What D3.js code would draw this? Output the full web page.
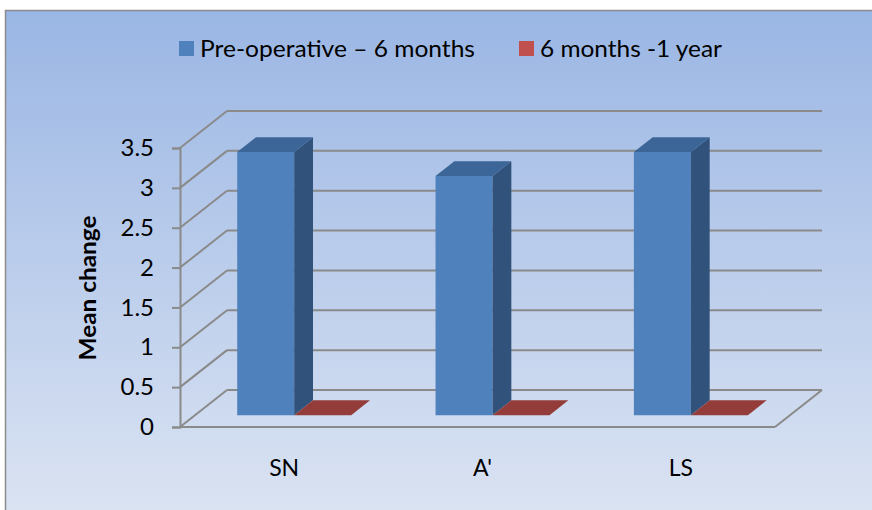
<!DOCTYPE html>
<html>
<head>
<meta charset="utf-8">
<script src="https://cdn.jsdelivr.net/npm/d3@7"></script>
<style>
  body { margin: 0; background: #fff; }
  text { font-family: Lato, "Open Sans", sans-serif; fill: #000; }
</style>
</head>
<body>
<svg id="chart" width="872" height="510"></svg>
<script>
// data
var categories = ["SN", "A'", "LS"];
var seriesNames = ["Pre-operative \u2013 6 months", "6 months -1 year"];
var preOp = [3.3, 3.0, 3.3];
var sixToYear = [0, 0, 0];
var yTicks = [0, 0.5, 1, 1.5, 2, 2.5, 3, 3.5];

var colors = [
    {front: "#4F81BD", side: "#31527B", top: "#3C6598"},
    {front: "#C0504D", side: "#7A2F2D", top: "#943C3A"}
];

var svg = d3.select("#chart");

// background gradient
var defs = svg.append("defs");
var grad = defs.append("linearGradient")
    .attr("id", "bg")
    .attr("x1", 0).attr("y1", 0).attr("x2", 0).attr("y2", 1);
grad.append("stop").attr("offset", "0%").attr("stop-color", "#9AB6E4");
grad.append("stop").attr("offset", "100%").attr("stop-color", "#DDE5F3");

svg.append("rect")
    .attr("x", 5.5).attr("y", 10.5)
    .attr("width", 880).attr("height", 520)
    .attr("fill", "url(#bg)")
    .attr("stroke", "#8c8c8c")
    .attr("stroke-width", 1.5);

// 3d frame
var front = {left: 180, right: 775, bottom: 427, top: 148};
var depth = {dx: 47, dy: -37};
var barDepth = [0.32, 0.72];

var x = d3.scaleBand()
    .domain(categories)
    .range([front.left, front.right]);

var xs = d3.scaleBand()
    .domain([0, 1])
    .range([0, x.bandwidth()])
    .paddingOuter(0.74);

var y = d3.scaleLinear()
    .domain([0, 3.5])
    .range([front.bottom, front.top]);

var grid = svg.append("g")
    .attr("stroke", "#8a8a8a")
    .attr("stroke-width", 2)
    .attr("fill", "none");

// back wall gridlines + side diagonals
yTicks.forEach(function(t) {
    grid.append("line")
        .attr("x1", front.left + depth.dx).attr("y1", y(t) + depth.dy)
        .attr("x2", front.right + depth.dx).attr("y2", y(t) + depth.dy);
    grid.append("line")
        .attr("x1", front.left).attr("y1", y(t))
        .attr("x2", front.left + depth.dx).attr("y2", y(t) + depth.dy);
});

// floor front edge and right diagonal
grid.append("line")
    .attr("x1", front.left).attr("y1", y(0))
    .attr("x2", front.right).attr("y2", y(0));
grid.append("line")
    .attr("x1", front.right).attr("y1", y(0))
    .attr("x2", front.right + depth.dx).attr("y2", y(0) + depth.dy);

// y axis
var yAxis = d3.axisLeft(y)
    .tickValues(yTicks)
    .tickSize(8)
    .tickPadding(18)
    .tickFormat(function(d) { return d; });

var ya = svg.append("g")
    .attr("transform", "translate(" + front.left + ",0)")
    .call(yAxis);
ya.select(".domain").attr("stroke", "#8a8a8a").attr("stroke-width", 2);
ya.selectAll(".tick line").attr("stroke", "#8a8a8a").attr("stroke-width", 2);
ya.selectAll(".tick text")
    .attr("font-size", 24)
    .attr("font-family", "Lato, sans-serif")
    .attr("fill", "#000");

// bars
function pt(px, py, t) {
    return [px + depth.dx * t, py + depth.dy * t];
}

var bars = [];
categories.forEach(function(c, i) {
    [preOp[i], sixToYear[i]].forEach(function(v, s) {
        bars.push({cat: c, s: s, value: v});
    });
});

var barG = svg.append("g");
bars.forEach(function(d) {
    var xl = x(d.cat) + xs(d.s);
    var xr = xl + xs.bandwidth();
    var yb = y(0);
    var yt = y(d.value);
    var t0 = barDepth[0], t1 = barDepth[1];
    var c = colors[d.s];
    var poly = function(pts) { return pts.map(function(p) { return p.join(","); }).join(" "); };

    // front face
    barG.append("polygon")
        .attr("points", poly([pt(xl, yb, t0), pt(xr, yb, t0), pt(xr, yt, t0), pt(xl, yt, t0)]))
        .attr("fill", c.front);
    // side face
    barG.append("polygon")
        .attr("points", poly([pt(xr, yb, t0), pt(xr, yb, t1), pt(xr, yt, t1), pt(xr, yt, t0)]))
        .attr("fill", c.side);
    // top face
    barG.append("polygon")
        .attr("points", poly([pt(xl, yt, t0), pt(xr, yt, t0), pt(xr, yt, t1), pt(xl, yt, t1)]))
        .attr("fill", c.top);
});

// category labels
svg.append("g").selectAll("text")
    .data(categories)
    .enter()
    .append("text")
        .attr("x", function(d) { return x(d) + x.bandwidth() / 2 + 5; })
        .attr("y", 476)
        .attr("text-anchor", "middle")
        .attr("font-size", 23)
        .text(function(d) { return d; });

// y title
svg.append("text")
    .attr("transform", "translate(96,288) rotate(-90)")
    .attr("text-anchor", "middle")
    .attr("font-size", 23)
    .attr("font-weight", "bold")
    .attr("textLength", 145)
    .attr("lengthAdjust", "spacingAndGlyphs")
    .text("Mean change");

// legend
var legendX = [179, 519];
var legendW = [275, 182];
var legend = svg.append("g").selectAll("g")
    .data(seriesNames)
    .enter()
    .append("g")
        .attr("transform", function(d, i) { return "translate(" + legendX[i] + ",41)"; });
legend.append("rect")
    .attr("width", 15).attr("height", 15)
    .attr("fill", function(d, i) { return colors[i].front; });
legend.append("text")
    .attr("x", 21).attr("y", 16)
    .attr("font-size", 23)
    .attr("textLength", function(d, i) { return legendW[i]; })
    .attr("lengthAdjust", "spacingAndGlyphs")
    .text(function(d) { return d; });
</script>
</body>
</html>
